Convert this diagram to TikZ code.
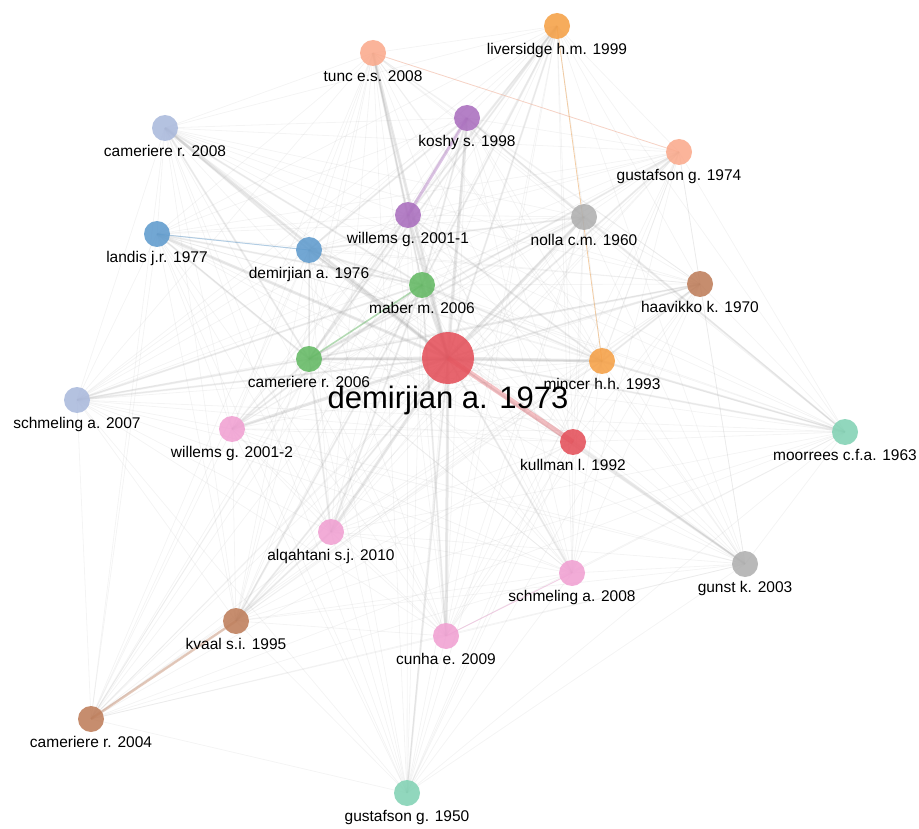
\documentclass[tikz,border=0pt]{standalone}
\usepackage{fontspec}
\setmainfont{Liberation Sans}
\pgfdeclarelayer{bg}
\pgfsetlayers{bg,main}
\definecolor{cred}{RGB}{228,80,90}
\definecolor{corange}{RGB}{245,160,70}
\definecolor{csalmon}{RGB}{250,170,140}
\definecolor{cpurple}{RGB}{170,110,190}
\definecolor{clav}{RGB}{170,185,220}
\definecolor{cblue}{RGB}{95,155,205}
\definecolor{cgray}{RGB}{175,175,175}
\definecolor{cgreen}{RGB}{100,185,100}
\definecolor{cbrown}{RGB}{190,125,90}
\definecolor{cpink}{RGB}{240,160,210}
\definecolor{cteal}{RGB}{130,210,180}
\definecolor{cedge}{RGB}{150,150,150}
\tikzset{
  dot/.style={circle, minimum size=26pt, inner sep=0pt, draw=none, fill opacity=0.88},
  bigdot/.style={circle, minimum size=52pt, inner sep=0pt, draw=none, fill opacity=0.88},
  lab/.style={font=\fontsize{15.5}{18}\selectfont, inner sep=0pt, anchor=base},
  biglab/.style={font=\fontsize{31}{36}\selectfont, inner sep=0pt, anchor=base},
  faint/.style={draw=cedge, draw opacity=0.10, line width=0.8pt},
  mid/.style={draw=cedge, draw opacity=0.14, line width=2pt},
  heavy/.style={draw=cedge, draw opacity=0.20, line width=3pt},
  cedgeS/.style={line width=1pt, draw opacity=0.45},
}
\begin{document}
\begin{tikzpicture}[x=1pt,y=-1pt]
\useasboundingbox (0,0) rectangle (919,829);
% nodes
\node[bigdot, fill=cred] (D) at (448,358) {};
\node[biglab] (Dl) at (448,408) {demirjian a. 1973};
\foreach \n/\x/\y/\c/\t in {
 liv/557/26/corange/liversidge h.m. 1999,
 tunc/373/53/csalmon/tunc e.s. 2008,
 koshy/467/118/cpurple/koshy s. 1998,
 camA/165/128/clav/cameriere r. 2008,
 gusA/679/152/csalmon/gustafson g. 1974,
 wilA/408/215/cpurple/willems g. 2001-1,
 nolla/584/217/cgray/nolla c.m. 1960,
 landis/157/234/cblue/landis j.r. 1977,
 demB/309/250/cblue/demirjian a. 1976,
 maber/422/285/cgreen/maber m. 2006,
 haav/700/284/cbrown/haavikko k. 1970,
 camB/309/359/cgreen/cameriere r. 2006,
 mincer/602/361/corange/mincer h.h. 1993,
 schA/77/400/clav/schmeling a. 2007,
 wilB/232/429/cpink/willems g. 2001-2,
 kull/573/442/cred/kullman l. 1992,
 moor/845/432/cteal/moorrees c.f.a. 1963,
 alq/331/532/cpink/alqahtani s.j. 2010,
 schB/572/573/cpink/schmeling a. 2008,
 gunst/745/564/cgray/gunst k. 2003,
 kvaal/236/621/cbrown/kvaal s.i. 1995,
 cunha/446/636/cpink/cunha e. 2009,
 camC/91/719/cbrown/cameriere r. 2004,
 gusB/407/793/cteal/gustafson g. 1950}{
  \node[dot, fill=\c] (\n) at (\x,\y) {};
  \node[lab] (\n l) at (\x,\y+28.5) {\t};
}
\begin{pgfonlayer}{bg}
% faint complete graph
\foreach \a [count=\i] in {D,liv,tunc,koshy,camA,gusA,wilA,nolla,landis,demB,maber,haav,camB,mincer,schA,wilB,kull,moor,alq,schB,gunst,kvaal,cunha,camC,gusB}{
  \foreach \b [count=\j] in {D,liv,tunc,koshy,camA,gusA,wilA,nolla,landis,demB,maber,haav,camB,mincer,schA,wilB,kull,moor,alq,schB,gunst,kvaal,cunha,camC,gusB}{
    \ifnum\j>\i \draw[faint] (\a.center) -- (\b.center); \fi
  }
}
% medium edges
\foreach \a/\b in {tunc/wilA,tunc/maber,koshy/maber,koshy/demB,koshy/nolla,liv/maber,liv/wilA,liv/camB,nolla/camB,nolla/demB,camA/demB,camA/maber,camA/camB,landis/maber,landis/camB,demB/camB,demB/maber,wilA/camB,wilA/mincer,maber/mincer,mincer/haav,camB/mincer,schA/camB,schA/maber,wilB/maber,wilB/camB,kull/gunst,moor/mincer,moor/nolla,alq/maber,alq/camB,kvaal/maber,kvaal/alq,gusA/camB,haav/camB,cunha/maber}{
  \draw[mid] (\a.center) -- (\b.center);
}
% heavy edges from the hub
\foreach \b in {tunc,koshy,wilA,nolla,maber,demB,camA,landis,camB,mincer,wilB,alq,cunha}{
  \draw[heavy] (D.center) -- (\b.center);
}
\foreach \b in {liv,haav,gusA,schA,schB,kvaal,gunst,moor,gusB}{
  \draw[mid] (D.center) -- (\b.center);
}
% coloured edges
\draw[draw=cred, draw opacity=0.35, line width=5pt] (D.center) -- (kull.center);
\draw[draw=cpurple, draw opacity=0.4, line width=3pt] (koshy.center) -- (wilA.center);
\draw[draw=cblue, cedgeS] (landis.center) -- (demB.center);
\draw[draw=cgreen, draw opacity=0.45, line width=1.6pt] (maber.center) -- (camB.center);
\draw[draw=cbrown, draw opacity=0.4, line width=2.5pt] (kvaal.center) -- (camC.center);
\draw[draw=csalmon, cedgeS, line width=0.8pt] (tunc.center) -- (gusA.center);
\draw[draw=corange, cedgeS, line width=0.8pt] (liv.center) -- (mincer.center);
\draw[draw=cpink, cedgeS, line width=0.8pt] (schB.center) -- (cunha.center);
\end{pgfonlayer}
\end{tikzpicture}
\end{document}
